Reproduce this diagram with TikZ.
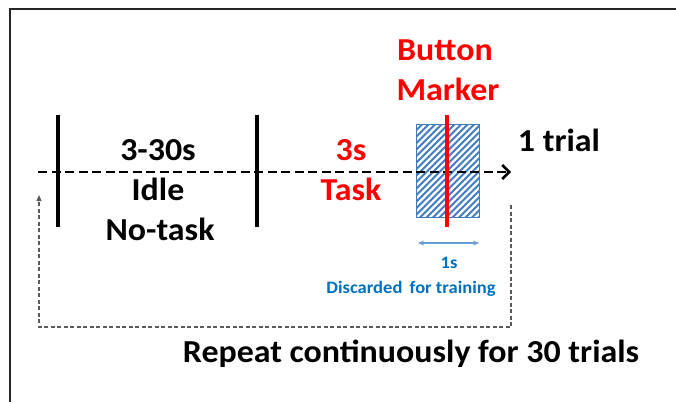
\documentclass[tikz,border=0pt]{standalone}
\usepackage{fontspec}
\setmainfont{Carlito}[FakeStretch=1.06]
\usetikzlibrary{arrows.meta}
\definecolor{markred}{RGB}{255,0,0}
\definecolor{dropblue}{RGB}{0,112,192}
\definecolor{hatchblue}{RGB}{65,125,190}
\definecolor{spanblue}{RGB}{100,160,215}
\definecolor{loopgray}{RGB}{90,90,90}
\tikzset{
  big/.style={inner sep=0pt, anchor=base, font=\bfseries\fontsize{32}{38}\selectfont},
  small/.style={inner sep=0pt, anchor=base, text=dropblue, font=\bfseries\fontsize{17.5}{21}\selectfont},
  bar/.style={line width=3.5pt},
  timeline/.style={line width=2.8pt, dash pattern=on 9pt off 4.5pt, -{Straight Barb[length=7pt,width=14pt,line width=2.6pt]}},
  loop/.style={line width=1.1pt, loopgray, dash pattern=on 4pt off 2.5pt, -{Triangle[length=6pt,width=5pt]}},
  frame/.style={line width=2pt, black!85},
  hatch/.style={hatchblue, line width=1.9pt}
}
\begin{document}
\begin{tikzpicture}[x=1pt,y=-1pt]
  \useasboundingbox (0,0) rectangle (676,402);
  % outer frame (only top and left edges visible)
  \draw[frame] (10,402) -- (10,8.5) -- (676,8.5);

  % hatched discard window
  \node[minimum width=62pt, minimum height=92pt, inner sep=0pt] (win) at (448,171) {};
  \begin{scope}
    \clip (win.south west) rectangle (win.north east);
    \foreach \d in {-96,-89.5,...,66} {
      \draw[hatch] (417+\d,219) -- (417+\d+96,123);
    }
  \end{scope}
  \draw[hatchblue, line width=1.2pt] (win.south west) rectangle (win.north east);

  % time axis
  \coordinate (tstart) at (38,172);
  \coordinate (tend) at (511,172);
  \draw[timeline] (tstart) -- (tend);

  % segment boundaries
  \coordinate (b1t) at (58,115); \coordinate (b1b) at (58,227);
  \coordinate (b2t) at (257,115); \coordinate (b2b) at (257,227);
  \draw[bar] (b1t) -- (b1b);
  \draw[bar] (b2t) -- (b2b);

  % button marker
  \coordinate (mt) at (447,115); \coordinate (mb) at (447,227);
  \draw[markred, line width=4pt] (mt) -- (mb);

  % labels
  \node[big] (l1) at (158,160) {3-30s};
  \node[big] (l2) at (158,200) {Idle};
  \node[big] (l3) at (160,240.5) {No-task};
  \node[big, text=markred] (t1) at (351,160) {3s};
  \node[big, text=markred] (t2) at (351,200) {Task};
  \node[big, text=markred] (m1) at (445,60) {Button};
  \node[big, text=markred] (m2) at (448,100) {Marker};
  \node[big] (trial) at (559,151) {1 trial};

  % one-second span
  \coordinate (sa) at (418,243); \coordinate (sb) at (479,243);
  \draw[spanblue, line width=1.2pt, {Stealth[length=6pt,width=5pt]}-{Stealth[length=6pt,width=5pt]}] (sa) -- (sb);
  \node[small] (one) at (449,268) {1s};
  \node[small] (disc) at (411,293) {Discarded\hspace{3pt} for training};

  % repeat loop
  \coordinate (r1) at (511,205);
  \coordinate (r2) at (511,327);
  \coordinate (r3) at (39,327);
  \coordinate (r4) at (39,195);
  \draw[loop] (r1) -- (r2) -- (r3) -- (r4);
  \node[big] (rep) at (411,362.5) {Repeat continuously for 30 trials};
\end{tikzpicture}
\end{document}
